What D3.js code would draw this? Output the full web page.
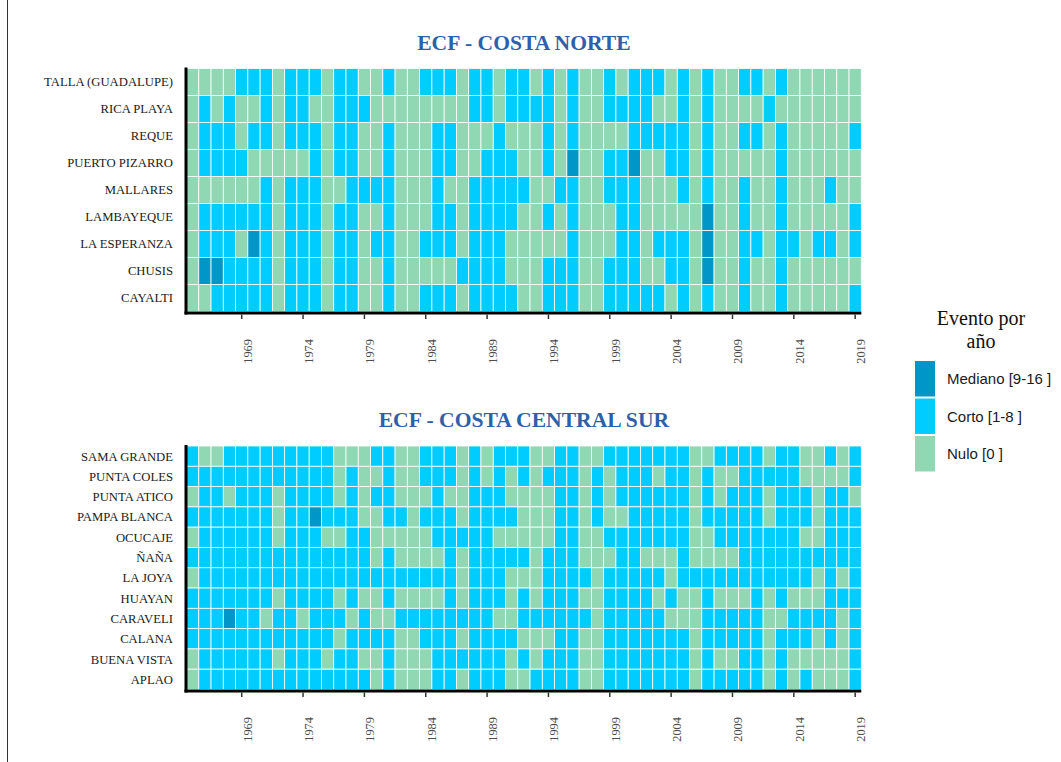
<!DOCTYPE html>
<html>
<head>
<meta charset="utf-8">
<script src="https://cdn.jsdelivr.net/npm/d3@7"></script>
<style>
  html, body { margin: 0; padding: 0; background: #fff; }
  svg { display: block; }
</style>
</head>
<body>
<svg id="chart" width="1061" height="762"></svg>
<script>
// Years covered by both heatmaps
const years = d3.range(1965, 2020);
const tickYears = [1969, 1974, 1979, 1984, 1989, 1994, 1999, 2004, 2009, 2014, 2019];

// Event classes: N = Nulo [0], C = Corto [1-8], M = Mediano [9-16]
const classes = ["M", "C", "N"];
const classLabels = ["Mediano [9-16 ]", "Corto [1-8 ]", "Nulo [0 ]"];
const classColors = ["#0096C7", "#00CCFF", "#8FD8B3"];

// Costa Norte stations (top to bottom) and yearly class, 1965-2019
const norteStations = ["TALLA (GUADALUPE)", "RICA PLAYA", "REQUE", "PUERTO PIZARRO",
  "MALLARES", "LAMBAYEQUE", "LA ESPERANZA", "CHUSIS", "CAYALTI"];
const norteValues = [
  "NNNNCCCNCCCNCCNNCNNCCCNCCNCC" + "NCNCNNCNCCCNCNCNNCCNCNNNNNN",
  "NCNCNNCNCCNNCCCNNNNNNNNCCNCC" + "CCNCNNCCCCNNCNCNNNNCNNNNNNN",
  "NCCCNCCNCCCNCCNNCNNNCCNNNCNN" + "NCNCNNNNCCCCCNCNNCCNCNNNNNC",
  "NCCCCNNNNNCNCCNNCNNNCCNNCCCN" + "NCNMNNCCMNNCCNCNNNNNCNNNNNN",
  "NNNNNNCNCCCNNCCCCNNNCNNCCCCC" + "NNCCNNCCCNNNCNCNNCNNCNNNCNN",
  "NCCCCCCNCCCNCCNNCNNNCCNCCCCN" + "NCNCNNNCCNNNNNMNNCNNCNNNNNC",
  "NCCCNMCNCCCNCCNCCNNCCCNCCCNN" + "NNNCNNNCCNCCCNMNNCCNCCNCCNC",
  "NMMCCCCNCCCNCCNNCNNNNNCCCCNN" + "NCCCNNCCCNNCCNMNNCNNCNNNNNN",
  "NNCCCCCNCCCNCCNNCNNCCCNCCCCN" + "NCCCNNCCCCCNCNCNNCNNCNNNNNC"
];

// Costa Central Sur stations (top to bottom) and yearly class, 1965-2019
const surStations = ["SAMA GRANDE", "PUNTA COLES", "PUNTA ATICO", "PAMPA BLANCA",
  "OCUCAJE", "ÑAÑA", "LA JOYA", "HUAYAN", "CARAVELI", "CALANA", "BUENA VISTA", "APLAO"];
const surValues = [
  "CNNCCCCCCCCCNNNCCNNCCCNCNCCC" + "NNCCNNCCCCCCCNNCCCCNCCNNCNC",
  "CCCCCCCCCCCCNCNNCNNCCCNCNCNC" + "NCCCNCNCCCNCCNCNNCCCCCNNNNC",
  "NCCNCCCNCCCCNCNCCNNNCNNCCCNN" + "NNCCNCNCCCCCCNCNCCCNCCCNCCN",
  "CCCCCCCNCCMCCCNNCCNCCCNCCCCN" + "NNCCNCNNCCCCCNCCCCCNCCCNCCC",
  "NCCCCCCNCCCNNCCNNNNNCCCCCNNN" + "NNCCNNCCCCCCCNNCCCCCCCNNCCC",
  "CCCCCCCCCCCCCCCNCNNNNCNCCCCC" + "NCCCNNNCCNNNCNNNNCCCCCCCCCC",
  "NCCCCCCCCCCCCCCCCCCCCCNCCCNN" + "NCCCCNCCCCCNCCCCCCCCCCCNCNC",
  "CCCCCCCNCCCCNCNNCNNNNCNCCCNC" + "NCCCNNCCCCNCNNCNNNCNCNNNCCC",
  "CCCMCCNCCNCCCNCNNCCCCCCCCNNC" + "CCCCCNCCCCCNNNCCCCCNNCCCCNC",
  "CCCCCCCCCCCCNCCCCNNCCCNCCCCN" + "NNCCNNCCCCCCCNCCCCCNCCCNCNC",
  "NCCCCCCNCCCNCCNNCNNNCCCCCCNC" + "NCCCNNCCCCCCCNCNNCCNCNNNNNC",
  "NCCCCCCCCCCCCCCNCNNNCCNCCCNN" + "CCCCNNCCCCCCCNCCCCCNCNCNNNC"
];

const svg = d3.select("#chart");
const serif = "'Liberation Serif', 'Times New Roman', serif";
const sans = "'Liberation Sans', Arial, sans-serif";

// thin frame line on the left edge
svg.append("line").attr("x1", 7.5).attr("x2", 7.5).attr("y1", 0).attr("y2", 762)
  .attr("stroke", "#333").attr("stroke-width", 1);

const color = d3.scaleOrdinal().domain(classes).range(classColors);
const x = d3.scaleBand().domain(years).range([186.5, 861.3]).padding(0);

function drawPanel(title, stations, values, top, bottom, titleY) {
  const g = svg.append("g");
  const y = d3.scaleBand().domain(stations).range([top, bottom]).padding(0);

  g.append("text")
    .attr("x", (x.range()[0] + x.range()[1]) / 2)
    .attr("y", titleY)
    .attr("text-anchor", "middle")
    .attr("font-family", serif)
    .attr("font-weight", "bold")
    .attr("font-size", "21.6px")
    .attr("fill", "#2E5FAA")
    .text(title);

  const cells = [];
  stations.forEach((s, i) => {
    values[i].split("").forEach((c, j) => cells.push({ station: s, year: years[j], cls: c }));
  });

  g.append("g").selectAll("rect").data(cells).join("rect")
    .attr("x", d => x(d.year))
    .attr("y", d => y(d.station))
    .attr("width", x.bandwidth())
    .attr("height", y.bandwidth())
    .attr("fill", d => color(d.cls))
    .attr("stroke", "#ffffff")
    .attr("stroke-width", 0.8);

  // station labels
  g.append("g").selectAll("text").data(stations).join("text")
    .attr("x", 173)
    .attr("y", d => y(d) + y.bandwidth() / 2)
    .attr("dy", "0.35em")
    .attr("text-anchor", "end")
    .attr("font-family", serif)
    .attr("font-size", "12.7px")
    .attr("fill", "#1a1a1a")
    .text(d => d);

  // axis lines
  const axisY = bottom + 1.5;
  g.append("line").attr("x1", 186).attr("x2", 186).attr("y1", top - 1).attr("y2", axisY + 1.5)
    .attr("stroke", "#000").attr("stroke-width", 3);
  g.append("line").attr("x1", 184.5).attr("x2", 861.3).attr("y1", axisY).attr("y2", axisY)
    .attr("stroke", "#000").attr("stroke-width", 3);

  // year ticks and rotated labels
  const ticks = g.append("g").selectAll("g").data(tickYears).join("g")
    .attr("transform", d => `translate(${x(d) + x.bandwidth() / 2},0)`);
  ticks.append("line")
    .attr("y1", axisY + 1.5).attr("y2", axisY + 6)
    .attr("stroke", "#333").attr("stroke-width", 1.5);
  ticks.append("text")
    .attr("transform", `translate(5.5,${axisY + 26}) rotate(-90)`)
    .attr("text-anchor", "end")
    .attr("dy", "0.35em")
    .attr("font-family", serif)
    .attr("font-size", "12.4px")
    .attr("fill", "#4d4d4d")
    .text(d => d);
}

drawPanel("ECF - COSTA NORTE", norteStations, norteValues, 68.5, 311.5, 49.5);
drawPanel("ECF - COSTA CENTRAL SUR", surStations, surValues, 446, 689.5, 427);

// legend
const legend = svg.append("g");
legend.append("text").attr("x", 981).attr("y", 325)
  .attr("text-anchor", "middle").attr("font-family", serif).attr("font-size", "20px")
  .attr("fill", "#111").text("Evento por");
legend.append("text").attr("x", 981).attr("y", 348)
  .attr("text-anchor", "middle").attr("font-family", serif).attr("font-size", "20px")
  .attr("fill", "#111").text("año");
const items = legend.selectAll("g.item").data(classes).join("g")
  .attr("class", "item")
  .attr("transform", (d, i) => `translate(915,${361 + i * 37.5})`);
items.append("rect").attr("width", 20).attr("height", 35.5)
  .attr("fill", d => color(d));
items.append("text").attr("x", 32).attr("y", 18).attr("dy", "0.35em")
  .attr("font-family", sans).attr("font-size", "15px").attr("fill", "#1a1a1a")
  .text((d, i) => classLabels[i]);
</script>
</body>
</html>
